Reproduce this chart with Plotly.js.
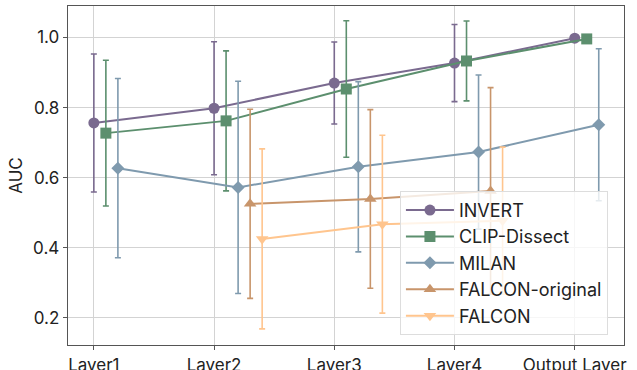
<!DOCTYPE html>
<html>
<head>
<meta charset="utf-8">
<script src="https://cdn.plot.ly/plotly-3.0.1.min.js"></script>
<style>html,body{margin:0;padding:0;background:#fff;}#chart{width:637px;height:370px;}</style>
</head>
<body>
<div id="chart"></div>
<script>
const categories = ["Layer1", "Layer2", "Layer3", "Layer4", "Output Layer"];
const seriesNames = ["INVERT", "CLIP-Dissect", "MILAN", "FALCON-original", "FALCON"];

const invertMean = [0.756, 0.798, 0.870, 0.927, 0.998];
const invertErr  = [0.197, 0.190, 0.117, 0.110, 0.0];

const clipMean = [0.727, 0.762, 0.853, 0.933, 0.996];
const clipErr  = [0.208, 0.200, 0.195, 0.114, 0.0];

const milanMean = [0.627, 0.572, 0.631, 0.673, 0.751];
const milanErr  = [0.256, 0.303, 0.243, 0.220, 0.217];

const falconOrigMean = [null, 0.525, 0.539, 0.562, null];
const falconOrigErr  = [null, 0.270, 0.255, 0.295, null];

const falconMean = [null, 0.425, 0.467, 0.477, null];
const falconErr  = [null, 0.257, 0.254, 0.210, null];

const yTicks = [0.2, 0.4, 0.6, 0.8, 1.0];

const means = [invertMean, clipMean, milanMean, falconOrigMean, falconMean];
const errs = [invertErr, clipErr, milanErr, falconOrigErr, falconErr];
const colors = ["#7a6a8f", "#5c8f6e", "#7f9aae", "#c8956b", "#ffc58e"];
const symbols = ["circle", "square", "diamond", "triangle-up", "triangle-down"];
const sizes = [11, 11, 10, 11, 11];

const traces = seriesNames.map((name, k) => {
  const xs = [], ys = [], es = [];
  categories.forEach((c, i) => {
    if (means[k][i] !== null) {
      xs.push(i + k * 0.1);
      ys.push(means[k][i]);
      es.push(errs[k][i]);
    }
  });
  return {
    type: "scatter",
    mode: "lines+markers",
    name: name,
    x: xs,
    y: ys,
    error_y: {type: "data", array: es, visible: true, color: colors[k], thickness: 1.6, width: 3},
    line: {color: colors[k], width: 2},
    marker: {color: colors[k], symbol: symbols[k], size: sizes[k]}
  };
});

const layout = {
  width: 637, height: 370,
  margin: {l: 68, r: 13, t: 6, b: 25},
  paper_bgcolor: "#ffffff",
  plot_bgcolor: "#ffffff",
  font: {family: "Inter, 'DejaVu Sans', sans-serif", size: 17, color: "#222"},
  showlegend: true,
  legend: {
    x: 0.597, y: 0.03, xanchor: "left", yanchor: "bottom",
    bgcolor: "rgba(255,255,255,0.8)", bordercolor: "#dddddd", borderwidth: 1,
    font: {size: 18, color: "#222"}, tracegroupgap: 0, itemwidth: 48
  },
  xaxis: {
    range: [-0.215, 4.41],
    tickvals: categories.map((c, i) => i),
    ticktext: categories,
    showgrid: true, gridcolor: "#d3d3d3", gridwidth: 1,
    zeroline: false,
    showline: true, linecolor: "#555", linewidth: 1.3, mirror: true,
    ticks: "outside", ticklen: 4, tickcolor: "#555",
    tickfont: {size: 17}
  },
  yaxis: {
    range: [0.122, 1.09],
    tickvals: yTicks,
    ticktext: yTicks.map(v => v.toFixed(1)),
    showgrid: true, gridcolor: "#d3d3d3", gridwidth: 1,
    zeroline: false,
    showline: true, linecolor: "#555", linewidth: 1.3, mirror: true,
    ticks: "outside", ticklen: 4, tickcolor: "#555",
    tickfont: {size: 17},
    title: {text: "AUC", font: {size: 17}, standoff: 6}
  }
};

Plotly.newPlot("chart", traces, layout, {staticPlot: true, displayModeBar: false});
</script>
</body>
</html>
